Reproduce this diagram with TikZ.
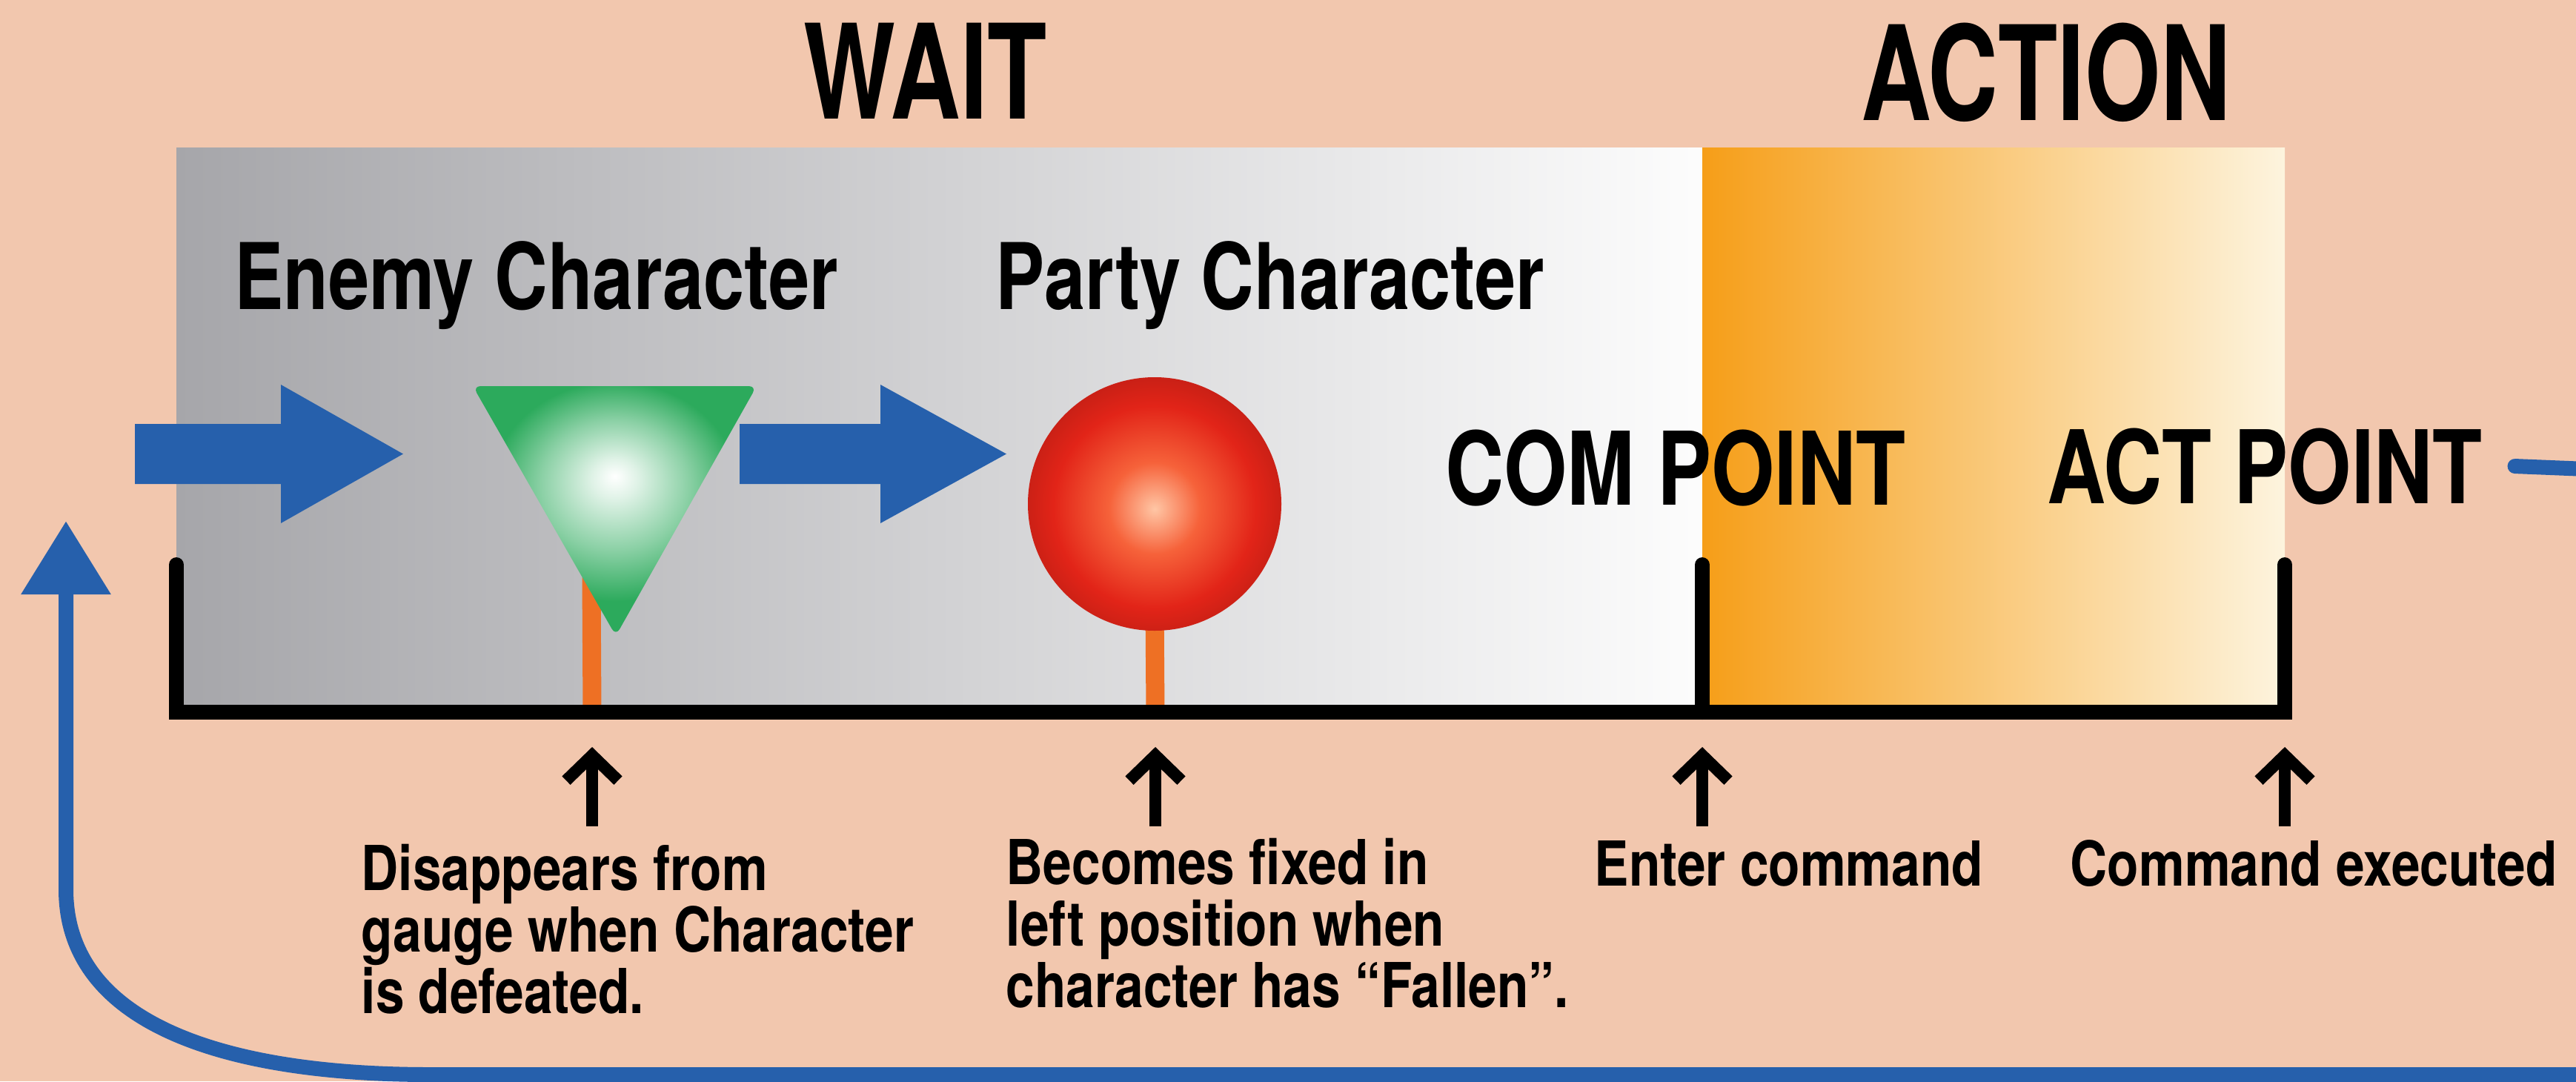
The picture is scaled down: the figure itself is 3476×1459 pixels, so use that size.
\documentclass[tikz,border=0pt]{standalone}
\usepackage{fontspec}
\newfontfamily\condfont[FakeStretch=0.8]{TeX Gyre Heros}
\newfontfamily\notefont[FakeStretch=0.83]{TeX Gyre Heros}
\newfontfamily\titlefont[FakeStretch=0.74]{TeX Gyre Heros}
\usetikzlibrary{arrows.meta, calc}
\definecolor{gaugepeach}{RGB}{242,199,174}
\definecolor{gaugeblue}{RGB}{38,96,172}
\definecolor{gaugegrey}{RGB}{166,166,170}
\definecolor{gaugeorange}{RGB}{246,158,24}
\definecolor{gaugeamber}{RGB}{249,188,66}
\definecolor{gaugecream}{RGB}{253,244,222}
\definecolor{gaugestick}{RGB}{238,112,36}
\definecolor{enemygreen}{RGB}{44,170,92}
\definecolor{partyred}{RGB}{226,36,24}
\definecolor{partyhi}{RGB}{255,198,165}
\definecolor{partymid}{RGB}{246,98,58}
\pgfdeclareradialshading{enemyglow}{\pgfpoint{0bp}{7bp}}{%
  color(0bp)=(white); color(4bp)=(white!85!enemygreen);
  color(13bp)=(enemygreen!55!white); color(22bp)=(enemygreen);
  color(50bp)=(enemygreen)}
\pgfdeclareradialshading{partyglow}{\pgfpoint{0bp}{-1bp}}{%
  color(0bp)=(partyhi); color(9bp)=(partymid);
  color(20bp)=(partyred); color(25bp)=(partyred!90!black);
  color(50bp)=(partyred!90!black)}

\begin{document}
\begin{tikzpicture}[
  x=0.1mm, y=-0.1mm,
  title/.style={font=\titlefont\bfseries\fontsize{50.5}{50.5}\selectfont,
                inner sep=0pt, anchor=base},
  charname/.style={font=\condfont\bfseries\fontsize{35.3}{35.3}\selectfont,
                   inner sep=0pt, anchor=base west},
  pointname/.style={font=\condfont\bfseries\fontsize{39}{39}\selectfont,
                    inner sep=0pt, anchor=base west},
  note/.style={font=\notefont\bfseries\fontsize{23.8}{23.6}\selectfont,
               inner sep=0pt, anchor=base west, align=left},
  bracket/.style={line width=2mm, line cap=round},
  stick/.style={gaugestick, line width=2.5mm},
  uparr/.style={-{Straight Barb[length=3.4mm,width=7mm]}, line width=1.6mm},
  cyclearr/.style={-{Triangle[length=9.9mm,width=11.6mm]}, gaugeblue,
                   line width=2mm, line cap=round}
]
\useasboundingbox (0,0) rectangle (3476,1459);
\fill[gaugepeach] (0,0) rectangle (3476,1459);

% gauge panels
\shade[left color=gaugegrey, right color=white!97!gaugegrey]
  (238,199) rectangle (2297,961);
\shade[left color=gaugeorange, middle color=gaugeamber, right color=gaugecream]
  (2297,199) rectangle (3083,961);

\coordinate (enemyPos) at (799,961);
\coordinate (partyPos) at (1559,961);
\coordinate (comPos) at (2297,961);
\coordinate (actPos) at (3083,961);

\draw[stick] (798,779) -- (enemyPos);
\draw[stick] (1558,820) -- (partyPos);
\draw[bracket] (238,762) -- (238,961) -- (actPos) -- (3083,762);
\draw[bracket] (2297,762) -- (comPos);

% tokens
\shade[shading=enemyglow, rounded corners=3pt]
  (638,521) -- (1021,521) -- (831,858) -- cycle;
\shade[shading=partyglow] (1558,680) circle[radius=1.71cm];

\foreach \sx/\sl/\hl in {182/197/165, 998/190/170}
  \fill[gaugeblue] (\sx,572) -- ++(\sl,0) -- ++(0,-53) -- ++(\hl,93.5)
    -- ++(-\hl,93.5) -- ++(0,-53) -- ++(-\sl,0) -- cycle;

% labels
\node[title] (wait) at (1249,160) {WAIT};
\node[title] (action) at (2761,162) {ACTION};
\node[charname] (enemy) at (316,417) {Enemy Character};
\node[charname] (party) at (1343,417) {Party Character};
\node[pointname] (compt) at (1950,681) {COM POINT};
\node[pointname] (actpt) at (2762,679) {ACT POINT};

% base of a multi-line note is its last line
\node[note] (enemyNote) at (487,1367)
  {Disappears from\\gauge when Character\\is defeated.};
\node[note] (partyNote) at (1357,1359)
  {Becomes fixed in\\left position when\\character has “Fallen”.};
\node[note] (comNote) at (2151,1195) {Enter command};
\node[note] (actNote) at (2793,1195) {Command executed};

\foreach \p in {enemyPos,partyPos,comPos,actPos}
  \draw[uparr] ($(\p)+(0,154)$) -- ($(\p)+(0,47)$);

% back to the start of the gauge
\begin{scope}
\clip (0,0) rectangle (3476,1459);
\draw[cyclearr] ([xshift=4.3mm]actpt.east) -- (3540,635) -- (3540,1450)
  -- (580,1450) .. controls (300,1450) and (89,1380) .. (89,1200) -- (89,703);
\end{scope}
\end{tikzpicture}
\end{document}
